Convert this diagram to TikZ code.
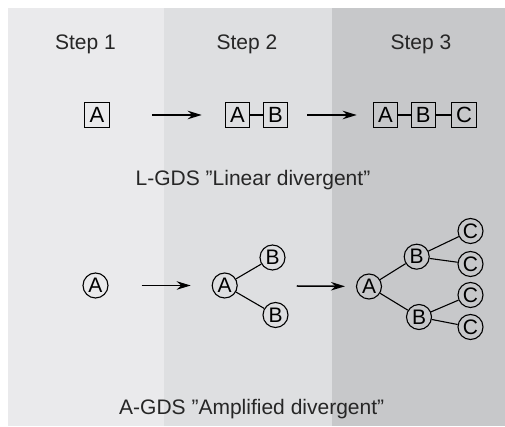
\documentclass[tikz,border=0pt]{standalone}
\usepackage{fontspec}
\setmainfont{Liberation Sans}
\usetikzlibrary{arrows.meta,positioning}

\definecolor{panelone}{HTML}{EAEAEC}
\definecolor{paneltwo}{HTML}{DEDFE1}
\definecolor{panelthree}{HTML}{C7C8CA}

\begin{document}
\begin{tikzpicture}[x=1pt, y=1pt,
    box/.style={draw, line width=1.1pt, minimum size=24.5pt, inner sep=0pt,
        font=\fontsize{22}{22}\selectfont},
    ball/.style={circle, draw, line width=1.1pt, minimum size=25pt, inner sep=0pt,
        font=\fontsize{21}{21}\selectfont},
    title/.style={anchor=base, text=black!85, font=\fontsize{21}{24}\selectfont},
    link/.style={line width=1.1pt},
    go/.style={-{Stealth[length=14pt, width=8.5pt]}, line width=1.5pt}]
    \useasboundingbox (0, 0) rectangle (505, 427);
    % panels
    \fill[white] (0, 0) rectangle (505, 427);
    \fill[panelone] (8, 1) rectangle (163.5, 419);
    \fill[paneltwo] (163.5, 1) rectangle (331.5, 419);
    \fill[panelthree] (331.5, 1) rectangle (505, 419);

    \node[title] (t1) at (85.5, 377) {Step 1};
    \node[title] (t2) at (247, 377) {Step 2};
    \node[title] (t3) at (421, 377) {Step 3};

    % linear
    \node[box] (s1a) at (97, 312) {A};
    \node[box] (s2a) at (237.5, 312) {A};
    \node[box] (s2b) at (275.5, 312) {B};
    \node[box] (s3a) at (385.5, 312) {A};
    \node[box] (s3b) at (423.3, 312) {B};
    \node[box] (s3c) at (464, 312) {C};
    \draw[link] (s2a) -- (s2b);
    \draw[link] (s3a) -- (s3b);
    \draw[link] (s3b) -- (s3c);
    \draw
    (s1a) edge[go, shorten <=42pt, shorten >=23pt] (s2a)
    (s2b) edge[go, shorten <=19pt, shorten >=16pt] (s3a);
    \node[title] (lin) at (253, 241) {L-GDS ”Linear divergent”};

    % amplified
    \node[ball] (c1a) at (95.5, 141.5) {A};
    \node[ball] (c2a) at (224.7, 141.5) {A};
    \node[ball] (c2b1) at (272.5, 169.5) {B};
    \node[ball] (c2b2) at (275.5, 112) {B};
    \node[ball] (c3a) at (369, 140.5) {A};
    \node[ball] (c3b1) at (416.7, 170.3) {B};
    \node[ball] (c3b2) at (419, 110) {B};
    \node[ball] (c3c1) at (470.5, 196) {C};
    \node[ball] (c3c2) at (470.5, 163) {C};
    \node[ball] (c3c3) at (470.5, 132) {C};
    \node[ball] (c3c4) at (470.5, 100) {C};
    \draw[link]
    (c2a) -- (c2b1)
    (c2a) -- (c2b2)
    (c3a) -- (c3b1)
    (c3a) -- (c3b2)
    (c3b1) -- (c3c1)
    (c3b1) -- (c3c2)
    (c3b2) -- (c3c3)
    (c3b2) -- (c3c4);
    \draw
    (c1a) edge[go, shorten <=33pt, shorten >=21pt] (c2a)
    (c2a) edge[go, shorten <=59pt, shorten >=11pt] (c3a);
    \node[title] (amp) at (251.7, 12) {A-GDS ”Amplified divergent”};
\end{tikzpicture}
\end{document}
